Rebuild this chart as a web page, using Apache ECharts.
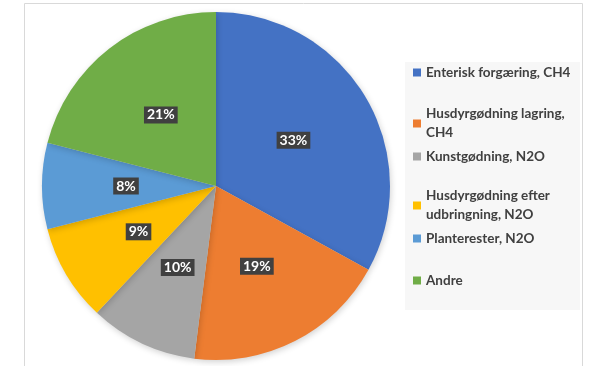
<!DOCTYPE html>
<html>
<head>
<meta charset="utf-8">
<script src="https://cdn.jsdelivr.net/npm/echarts@6/dist/echarts.min.js"></script>
<style>
  html, body { margin: 0; padding: 0; background: #ffffff; }
  #chart { width: 590px; height: 366px; }
</style>
</head>
<body>
<div id="chart"></div>
<script>
// Emission sources (share of total, %)
const categories = [
  'Enterisk forgæring, CH4',
  'Husdyrgødning lagring, CH4',
  'Kunstgødning, N2O',
  'Husdyrgødning efter udbringning, N2O',
  'Planterester, N2O',
  'Andre'
];
const shares = [33, 19, 10, 9, 8, 21];
const colors = ['#4472C4', '#ED7D31', '#A5A5A5', '#FFC000', '#5B9BD5', '#70AD47'];

// Legend labels as shown (with manual line breaks)
const legendLabels = [
  'Enterisk forgæring, CH4',
  'Husdyrgødning lagring,\nCH4',
  'Kunstgødning, N2O',
  'Husdyrgødning efter\nudbringning, N2O',
  'Planterester, N2O',
  'Andre'
];
const legendTops = [58, 90, 142, 172, 224, 266];

const FONT = 'Lato, "Open Sans", "Liberation Sans", sans-serif';

const chart = echarts.init(document.getElementById('chart'), null, { renderer: 'canvas' });

const legends = categories.map((name, i) => {
  const multi = legendLabels[i].indexOf('\n') >= 0;
  return {
    orient: 'vertical',
    left: 408,
    top: legendTops[i],
    itemWidth: 8,
    itemHeight: 8,
    icon: 'rect',
    selectedMode: false,
    data: [name],
    formatter: () => legendLabels[i],
    textStyle: {
      fontFamily: FONT,
      fontSize: 13.5,
      fontWeight: 700,
      color: '#404040',
      lineHeight: 19,
      padding: multi ? [19, 0, 0, 0] : 0
    }
  };
});

chart.setOption({
  animation: false,
  color: colors,
  graphic: [
    {
      type: 'rect',
      shape: { x: 24.5, y: 3.5, width: 558, height: 380 },
      style: { fill: 'none', stroke: '#d9d9d9', lineWidth: 1 },
      z: 0
    },
    {
      type: 'rect',
      shape: { x: 405, y: 62, width: 175, height: 248 },
      style: { fill: '#f7f7f7' },
      z: 0
    }
  ],
  legend: legends,
  series: [{
    type: 'pie',
    center: [216, 186],
    radius: [0, 174],
    startAngle: 90,
    clockwise: true,
    z: 2,
    itemStyle: {
      borderWidth: 0,
      shadowBlur: 6,
      shadowOffsetX: 1,
      shadowOffsetY: 2,
      shadowColor: 'rgba(0,0,0,0.18)'
    },
    label: {
      show: true,
      position: 'inside',
      formatter: p => p.value + '%',
      fontFamily: FONT,
      fontSize: 14,
      fontWeight: 700,
      color: '#ffffff',
      backgroundColor: '#404040',
      padding: [2, 3, 1, 3]
    },
    labelLine: { show: false },
    emphasis: { disabled: true },
    data: categories.map((name, i) => ({ name, value: shares[i] }))
  }]
});
</script>
</body>
</html>
